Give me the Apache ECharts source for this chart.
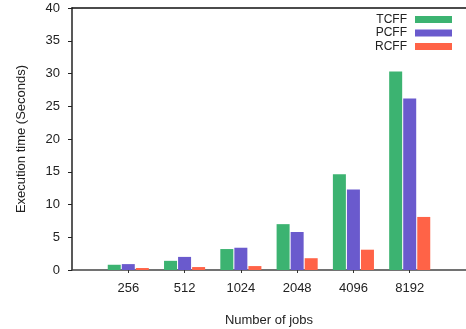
<!DOCTYPE html>
<html>
<head>
<meta charset="utf-8">
<script src="https://cdn.jsdelivr.net/npm/echarts@6/dist/echarts.min.js"></script>
<style>
  html, body { margin: 0; padding: 0; background: #fff; }
  #chart { width: 466px; height: 329px; }
</style>
</head>
<body>
<div id="chart"></div>
<script>
// Job counts on the x axis and execution times (seconds) per scheme
const jobs = ['256', '512', '1024', '2048', '4096', '8192'];
const tcff = [0.8, 1.4, 3.2, 7.0, 14.6, 30.3];
const pcff = [0.9, 2.0, 3.4, 5.8, 12.3, 26.2];
const rcff = [0.3, 0.45, 0.6, 1.8, 3.1, 8.1];
const yTicks = [0, 5, 10, 15, 20, 25, 30, 35, 40];

const FONT = 'Liberation Sans';
const pairs = arr => arr.map((v, i) => [i, v]);

const chart = echarts.init(document.getElementById('chart'), null, { renderer: 'canvas' });

function barSeries(name, values, color) {
  return {
    name: name,
    type: 'bar',
    data: pairs(values),
    barWidth: 13,
    barGap: '8%',
    itemStyle: { color: color },
    emphasis: { disabled: true }
  };
}

chart.setOption({
  animation: false,
  textStyle: { fontFamily: FONT },
  grid: { left: 72, right: 0, top: 8, bottom: 59, containLabel: false, outerBoundsMode: 'none' },
  legend: {
    orient: 'vertical',
    right: 14,
    top: 13,
    padding: 0,
    align: 'right',
    icon: 'rect',
    itemWidth: 37,
    itemHeight: 7,
    itemGap: 0.5,
    selectedMode: false,
    textStyle: { fontFamily: FONT, fontSize: 12, color: '#222', lineHeight: 13, padding: [0, 3, 0, 0] },
    data: ['TCFF', 'PCFF', 'RCFF']
  },
  xAxis: [
    {
      type: 'value',
      min: -1,
      max: 6,
      interval: 1,
      splitLine: { show: false },
      axisLine: { show: true, onZero: false, lineStyle: { color: '#444', width: 1.5 } },
      axisTick: { show: true, length: 3, customValues: [0, 1, 2, 3, 4, 5], lineStyle: { color: '#333' } },
      axisLabel: {
        customValues: [0, 1, 2, 3, 4, 5],
        formatter: v => jobs[v] ?? '',
        margin: 12,
        fontFamily: FONT, fontSize: 13, color: '#222'
      },
      name: 'Number of jobs',
      nameLocation: 'middle',
      nameGap: 44,
      nameTextStyle: { fontFamily: FONT, fontSize: 13, color: '#222' }
    },
    {
      type: 'value',
      position: 'top',
      min: -1,
      max: 6,
      axisLine: { show: true, onZero: false, lineStyle: { color: '#111', width: 1.5 } },
      axisTick: { show: false },
      axisLabel: { show: false },
      splitLine: { show: false }
    }
  ],
  yAxis: {
    type: 'value',
    min: 0,
    max: 40,
    interval: 5,
    splitLine: { show: false },
    axisLine: { show: true, onZero: false, lineStyle: { color: '#222', width: 1.5 } },
    axisTick: { show: true, length: 4, lineStyle: { color: '#222' } },
    axisLabel: {
      margin: 12,
      formatter: v => yTicks.includes(v) ? String(v) : '',
      fontFamily: FONT, fontSize: 13, color: '#222'
    },
    name: 'Execution time (Seconds)',
    nameLocation: 'middle',
    nameRotate: 90,
    nameGap: 44,
    nameTextStyle: { fontFamily: FONT, fontSize: 13, color: '#222' }
  },
  series: [
    barSeries('TCFF', tcff, '#3CB371'),
    barSeries('PCFF', pcff, '#6A5ACD'),
    barSeries('RCFF', rcff, '#FF6347')
  ]
});
</script>
</body>
</html>
